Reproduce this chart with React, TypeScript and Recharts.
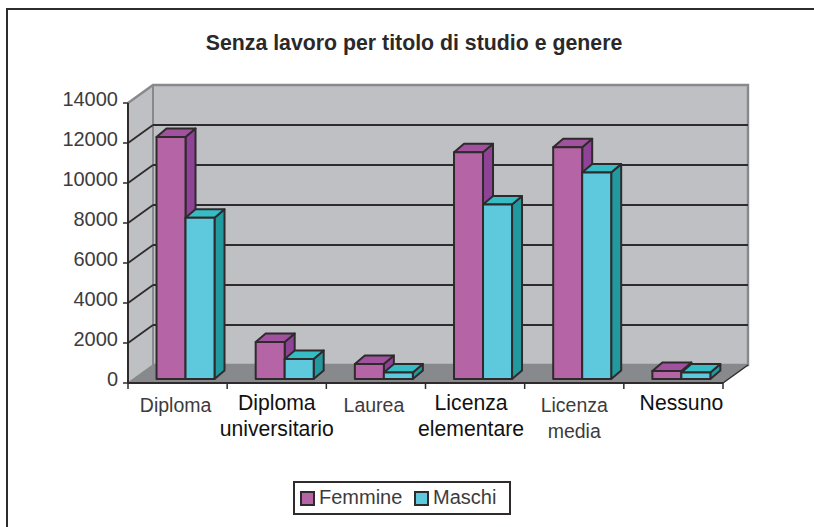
import React from "react";
import { BarChart, Bar, XAxis, YAxis, CartesianGrid, usePlotArea } from "recharts";

const categories = [
  ["Diploma"],
  ["Diploma", "universitario"],
  ["Laurea"],
  ["Licenza", "elementare"],
  ["Licenza", "media"],
  ["Nessuno"],
];
const femmine = [12100, 1850, 750, 11340, 11590, 400];
const maschi = [8060, 1000, 330, 8720, 10320, 320];
const yTicks = [0, 2000, 4000, 6000, 8000, 10000, 12000, 14000];
// the categories whose labels are darker and a bit bigger in the original
const darkLabels = [1, 3, 5];

const data = categories.map((c, i) => ({
  name: c.join(" "),
  Femmine: femmine[i],
  Maschi: maschi[i],
}));

const WALL_DX = 25;
const WALL_DY = 18;
const BAR_DX = 7.5;
const BAR_DY = 4;
const DEPTH_DX = 10;
const DEPTH_DY = 8.5;
const EDGE = "#2f2b2d";
const WALL_EDGE = "#87898c";
const FONT = "'Liberation Sans', Arial, sans-serif";
// labels are not quite centred on their band in the original
const labelNudge = [-2, 0, -2, -4, 0, 8];

// side walls and floor behind the chart
const Walls = () => {
  const plot = usePlotArea();
  if (!plot) return null;
  const { x, y, width, height } = plot;
  const b = y + height;
  const r = x + width;
  return (
    <g>
      <polygon
        points={`${x},${y} ${x + WALL_DX},${y - WALL_DY} ${x + WALL_DX},${b - WALL_DY} ${x},${b}`}
        fill="#bec0c4"
      />
      <rect x={x + WALL_DX} y={y - WALL_DY} width={width} height={height} fill="#bec0c4" />
      <polygon
        points={`${x},${b} ${x + WALL_DX},${b - WALL_DY} ${r + WALL_DX},${b - WALL_DY} ${r},${b}`}
        fill={WALL_EDGE}
      />
      <polyline
        points={`${x},${y} ${x + WALL_DX},${y - WALL_DY} ${r + WALL_DX},${y - WALL_DY} ${r + WALL_DX},${b - WALL_DY} ${x + WALL_DX},${b - WALL_DY}`}
        fill="none"
        stroke={WALL_EDGE}
        strokeWidth={2.4}
      />
      <line x1={x + WALL_DX} y1={y - WALL_DY} x2={x + WALL_DX} y2={b - WALL_DY} stroke={WALL_EDGE} strokeWidth={2} />
      <line x1={x} y1={b} x2={x + WALL_DX} y2={b - WALL_DY} stroke={WALL_EDGE} strokeWidth={1.5} />
      <line x1={r} y1={b} x2={r + WALL_DX} y2={b - WALL_DY} stroke={EDGE} strokeWidth={1.5} />
    </g>
  );
};

// gridline on the back wall plus its diagonal across the left wall
const gridLine = (props: any) => {
  const { x1, x2, y1, index } = props;
  if (y1 <= 104 || y1 >= 382) return <g key={index} />;
  return (
    <g key={index}>
      <line x1={x1} y1={y1} x2={x1 + WALL_DX} y2={y1 - WALL_DY} stroke={EDGE} strokeWidth={1.8} />
      <line x1={x1 + WALL_DX} y1={y1 - WALL_DY} x2={x2 + WALL_DX} y2={y1 - WALL_DY} stroke={EDGE} strokeWidth={1.8} />
    </g>
  );
};

const makeBar = (front: string, side: string, top: string) => (props: any) => {
  const { x, y, width, height } = props;
  const l = x + BAR_DX;
  const t = y - BAR_DY;
  const r = l + width;
  const b = t + height;
  return (
    <g stroke={EDGE} strokeWidth={2} strokeLinejoin="round">
      <polygon points={`${r},${t} ${r + DEPTH_DX},${t - DEPTH_DY} ${r + DEPTH_DX},${b - DEPTH_DY} ${r},${b}`} fill={side} />
      <polygon points={`${l},${t} ${l + DEPTH_DX},${t - DEPTH_DY} ${r + DEPTH_DX},${t - DEPTH_DY} ${r},${t}`} fill={top} />
      <rect x={l} y={t} width={width} height={height} fill={front} />
    </g>
  );
};

const CategoryTick = (props: any) => {
  const { x, y, index } = props;
  const half = 595 / 6 / 2;
  const dark = darkLabels.includes(index);
  const lines = categories[index];
  const top = y - 8;
  return (
    <g>
      <line x1={x - half} y1={top} x2={x - half} y2={top + 6} stroke={EDGE} strokeWidth={1.5} />
      {index === categories.length - 1 && (
        <line x1={x + half} y1={top} x2={x + half} y2={top + 6} stroke={EDGE} strokeWidth={1.5} />
      )}
      {lines.map((line, i) => (
        <text
          key={line}
          x={x + labelNudge[index]}
          y={y + (dark ? 19 : 20.5) + i * 26}
          textAnchor="middle"
          fontFamily={FONT}
          fontSize={dark ? 21.2 : 19.5}
          fill={dark ? "#111" : "#3e3b3c"}
        >
          {line}
        </text>
      ))}
    </g>
  );
};

const LegendBox = () => (
  <div
    style={{
      position: "absolute",
      left: 293,
      top: 481,
      width: 218,
      height: 34,
      boxSizing: "border-box",
      border: `2px solid ${EDGE}`,
      fontFamily: FONT,
      fontSize: 20,
      color: "#3e3b3c",
      background: "#fff",
    }}
  >
    <span style={{ position: "absolute", left: 5, top: 8, width: 15, height: 15, boxSizing: "border-box", background: "#b565a5", border: `2px solid ${EDGE}` }} />
    <span style={{ position: "absolute", left: 24, top: 3 }}>Femmine</span>
    <span style={{ position: "absolute", left: 119, top: 8, width: 15, height: 15, boxSizing: "border-box", background: "#5ec8dc", border: `2px solid ${EDGE}` }} />
    <span style={{ position: "absolute", left: 138, top: 3 }}>Maschi</span>
  </div>
);

const App = () => {
  return (
    <div style={{ position: "absolute", left: 0, top: 0, width: 814, height: 527, background: "#fff" }}>
      <BarChart
        width={814}
        height={527}
        data={data}
        margin={{ top: 103, right: 91, bottom: 84, left: 68 }}
        barCategoryGap="21.2%"
        barGap={0}
      >
        <Walls />
        <CartesianGrid vertical={false} horizontal={gridLine} zIndex={1} />
        <XAxis
          dataKey="name"
          interval={0}
          height={60}
          axisLine={{ stroke: EDGE, strokeWidth: 2 }}
          tickLine={false}
          tick={<CategoryTick />}
        />
        <YAxis
          width={60}
          domain={[0, 14000]}
          ticks={yTicks}
          interval={0}
          axisLine={{ stroke: EDGE, strokeWidth: 2 }}
          tickLine={{ stroke: EDGE, strokeWidth: 1.5 }}
          tickSize={5}
          tickMargin={5}
          tick={{ fontFamily: FONT, fontSize: 20, fill: "#3e3b3c", dy: -4 }}
        />
        <Bar dataKey="Femmine" fill="#b565a5" isAnimationActive={false} shape={makeBar("#b565a5", "#8f4396", "#a0529f")} />
        <Bar dataKey="Maschi" fill="#5ec8dc" isAnimationActive={false} shape={makeBar("#5ec8dc", "#22989f", "#36bcc5")} />
        <text x={414} y={50} textAnchor="middle" fontFamily={FONT} fontWeight="bold" fontSize={21.3} fill="#2b2829">
          Senza lavoro per titolo di studio e genere
        </text>
      </BarChart>
      <LegendBox />
      <div style={{ position: "absolute", left: 6, top: 8, width: 808, height: 2, background: EDGE }} />
      <div style={{ position: "absolute", left: 6, top: 8, width: 2, height: 519, background: EDGE }} />
    </div>
  );
};

export default App;
